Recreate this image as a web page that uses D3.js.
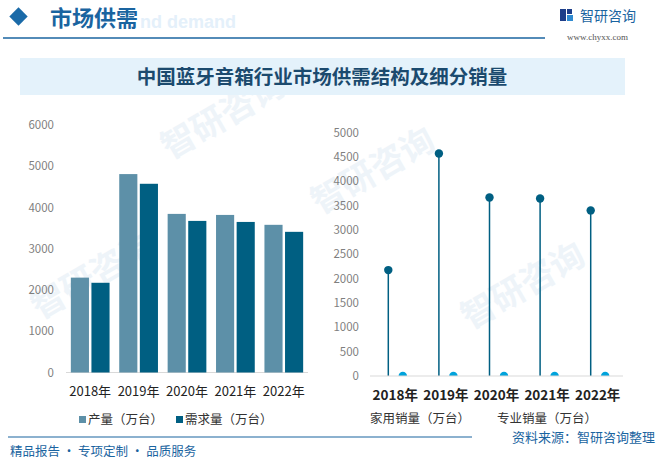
<!DOCTYPE html>
<html><head><meta charset="utf-8">
<script src="https://cdn.jsdelivr.net/npm/d3@7/dist/d3.min.js"></script>
<style>
html,body{margin:0;padding:0;background:#fff;}
svg{display:block;font-family:"Microsoft YaHei","Noto Sans CJK SC",sans-serif;}
</style></head><body>
<svg id="c" width="659" height="461"></svg>
<script>
const years = ["2018年","2019年","2020年","2021年","2022年"];
const production = [2300, 4810, 3845, 3820, 3580];
const demand = [2175, 4575, 3675, 3650, 3410];
const homeSales = [2175, 4570, 3665, 3645, 3400];
const proSales = [0, 0, 0, 0, 0];
const leftTicks = [0,1000,2000,3000,4000,5000,6000];
const rightTicks = [0,500,1000,1500,2000,2500,3000,3500,4000,4500,5000];

const svg = d3.select("#c");

// watermarks (faint)
const wm = svg.append("g").attr("fill","#eef4f9").attr("font-size",34).attr("font-weight","bold");
[[40,320],[320,215],[470,330],[170,160]].forEach(p=>{
  wm.append("text").attr("x",p[0]).attr("y",p[1]).attr("transform",`rotate(-30,${p[0]},${p[1]})`).text("智研咨询");
});

// header
svg.append("text").attr("x",140).attr("y",28).attr("fill","#e4f0fa").attr("font-size",18).attr("font-weight","bold")
  .attr("font-family","Arial, sans-serif").text("nd demand");
svg.append("rect").attr("x",12).attr("y",10).attr("width",13).attr("height",13)
  .attr("transform","rotate(45,18.5,16.5)").attr("fill","#1a6aa8");
svg.append("text").attr("x",50).attr("y",26).attr("fill","#1a64a0").attr("font-size",22).attr("font-weight","bold").text("市场供需");
svg.append("line").attr("x1",3).attr("x2",545).attr("y1",38).attr("y2",38).attr("stroke","#1a64a0").attr("stroke-width",1.5);
// logo
const lg = svg.append("g");
lg.append("rect").attr("x",560).attr("y",9).attr("width",6).attr("height",12).attr("fill","#1d3e8a");
lg.append("rect").attr("x",567).attr("y",9).attr("width",5).attr("height",5).attr("fill","#1d3e8a");
lg.append("rect").attr("x",567).attr("y",15).attr("width",6).attr("height",6).attr("fill","#2f8ad0");
lg.append("text").attr("x",580).attr("y",21).attr("fill","#1a64a0").attr("font-size",14).text("智研咨询");
lg.append("text").attr("x",567).attr("y",40).attr("fill","#555").attr("font-size",9).attr("font-family","'Liberation Serif',serif").text("www.chyxx.com");

// title banner
svg.append("rect").attr("x",20).attr("y",58).attr("width",605).attr("height",37).attr("fill","#e4f2fb");
svg.append("text").attr("x",322).attr("y",84).attr("text-anchor","middle").attr("fill","#1b4a6e")
  .attr("font-size",19.5).attr("font-weight","bold").text("中国蓝牙音箱行业市场供需结构及细分销量");

// LEFT chart
const lx = d3.scaleBand().domain(years).range([66,308]).paddingInner(0.2).paddingOuter(0.1);
const ly = d3.scaleLinear().domain([0,6000]).range([372.5,125]);
const lsub = d3.scaleBand().domain(["p","d"]).range([0,lx.bandwidth()]).paddingInner(0.12);
const lg2 = svg.append("g");
lg2.selectAll("text.yt").data(leftTicks).join("text").attr("class","yt")
  .attr("x",54).attr("y",d=>ly(d)+4).attr("text-anchor","end").attr("fill","#7f7f7f").attr("font-size",11.5).text(d=>d);
lg2.append("line").attr("x1",66).attr("x2",308).attr("y1",ly(0)).attr("y2",ly(0)).attr("stroke","#d9d9d9");
lg2.selectAll("rect.p").data(years).join("rect").attr("class","p")
  .attr("x",d=>lx(d)+lsub("p")).attr("width",lsub.bandwidth())
  .attr("y",(d,i)=>ly(production[i])).attr("height",(d,i)=>ly(0)-ly(production[i])).attr("fill","#5d90a8");
lg2.selectAll("rect.d").data(years).join("rect").attr("class","d")
  .attr("x",d=>lx(d)+lsub("d")).attr("width",lsub.bandwidth())
  .attr("y",(d,i)=>ly(demand[i])).attr("height",(d,i)=>ly(0)-ly(demand[i])).attr("fill","#005f82");
lg2.selectAll("text.xt").data(years).join("text").attr("class","xt")
  .attr("x",d=>lx(d)+lx.bandwidth()/2).attr("y",396).attr("text-anchor","middle").attr("fill","#222").attr("font-size",13).text(d=>d);
// left legend
lg2.append("rect").attr("x",79).attr("y",416).attr("width",7).attr("height",7).attr("fill","#5d90a8");
lg2.append("text").attr("x",88).attr("y",424).attr("fill","#333").attr("font-size",12.5).text("产量（万台）");
lg2.append("rect").attr("x",176).attr("y",416).attr("width",7).attr("height",7).attr("fill","#005f82");
lg2.append("text").attr("x",185).attr("y",424).attr("fill","#333").attr("font-size",12.5).text("需求量（万台）");

// RIGHT chart
const rx = d3.scaleBand().domain(years).range([370,623]);
const ry = d3.scaleLinear().domain([0,5000]).range([376,132.5]);
const rsub = d3.scalePoint().domain(["h","p"]).range([-7,7.5]);
const rg = svg.append("g");
rg.selectAll("text.yt").data(rightTicks).join("text").attr("class","yt")
  .attr("x",359).attr("y",d=>ry(d)+4).attr("text-anchor","end").attr("fill","#7f7f7f").attr("font-size",11.5).text(d=>d);
svg.append("clipPath").attr("id","clipR").append("rect").attr("x",360).attr("y",100).attr("width",280).attr("height",276);
const plot = rg.append("g").attr("clip-path","url(#clipR)");
plot.selectAll("line.h").data(years).join("line").attr("class","h")
  .attr("x1",d=>rx(d)+rx.bandwidth()/2+rsub("h")).attr("x2",d=>rx(d)+rx.bandwidth()/2+rsub("h"))
  .attr("y1",ry(0)).attr("y2",(d,i)=>ry(homeSales[i])).attr("stroke","#005f82").attr("stroke-width",1.5);
plot.selectAll("circle.h").data(years).join("circle").attr("class","h")
  .attr("cx",d=>rx(d)+rx.bandwidth()/2+rsub("h")).attr("cy",(d,i)=>ry(homeSales[i])).attr("r",4.2).attr("fill","#005f82");
plot.selectAll("circle.p").data(years).join("circle").attr("class","p")
  .attr("cx",d=>rx(d)+rx.bandwidth()/2+rsub("p")).attr("cy",(d,i)=>ry(proSales[i])).attr("r",4.2).attr("fill","#00a3dc");
rg.append("line").attr("x1",370).attr("x2",623).attr("y1",ry(0)).attr("y2",ry(0)).attr("stroke","#d9d9d9");
rg.selectAll("text.xt").data(years).join("text").attr("class","xt")
  .attr("x",d=>rx(d)+rx.bandwidth()/2).attr("y",400).attr("text-anchor","middle").attr("fill","#222")
  .attr("font-size",13.5).attr("font-weight","bold").text(d=>d);
rg.append("text").attr("x",370).attr("y",423).attr("fill","#333").attr("font-size",12.5).text("家用销量（万台）");
rg.append("text").attr("x",497).attr("y",423).attr("fill","#333").attr("font-size",12.5).text("专业销量（万台）");

// footer
svg.append("line").attr("x1",8).attr("x2",472).attr("y1",437).attr("y2",437).attr("stroke","#1a64a0").attr("stroke-width",1.2);
svg.append("text").attr("x",10).attr("y",456).attr("fill","#1a64a0").attr("font-size",12.5).text("精品报告 · 专项定制 · 品质服务");
svg.append("text").attr("x",655).attr("y",442).attr("text-anchor","end").attr("fill","#1a64a0").attr("font-size",13).text("资料来源：智研咨询整理");
</script>
</body></html>
